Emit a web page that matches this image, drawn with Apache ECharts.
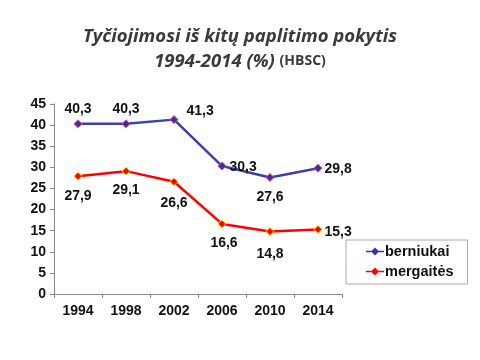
<!DOCTYPE html>
<html><head><meta charset="utf-8">
<script src="https://cdn.jsdelivr.net/npm/echarts@6/dist/echarts.min.js"></script>
<style>html,body{margin:0;padding:0;background:#fff}#c{width:480px;height:360px}</style>
</head><body><div id="c"></div>
<script>
const years = ['1994','1998','2002','2006','2010','2014'];
const berniukai = [40.3, 40.3, 41.3, 30.3, 27.6, 29.8];
const mergaites = [27.9, 29.1, 26.6, 16.6, 14.8, 15.3];
const berniukaiPos = ['top','top','right','right','bottom','right'];
const mergaitesPos = ['bottom','bottom','bottom','bottom','bottom','right'];
const berniukaiOff = [[0,0],[0,0],[0,-8],[-5,1],[0,0],[-6,1]];
const mergaitesOff = [[0,0],[0,0],[0,2],[2,0],[0,3],[-6,3]];
const yTicks = [0,5,10,15,20,25,30,35,40,45];

const fmt = p => p.value.toFixed(1).replace('.', ',');
const lbl = {show:true, formatter: fmt, fontFamily:'Liberation Sans', fontWeight:'bold', fontSize:14, color:'#111', distance:8};
function mk(vals, pos, off){ return vals.map((v,i)=>({value:v, label:{position:pos[i], offset: off[i], distance: pos[i]==='top' ? 3 : 8}})); }
const legendIcon = 'path://M0,4.2 L18,4.2 L18,5.8 L0,5.8 Z M9,1 L13,5 L9,9 L5,5 Z';

const chart = echarts.init(document.getElementById('c'));
chart.setOption({
  animation:false,
  backgroundColor:'#fff',
  title:{
    left:'center', top:19, itemGap:4,
    text:'Tyčiojimosi iš kitų paplitimo pokytis\n1994-2014 (%) {s|(HBSC)}',
    textStyle:{fontFamily:'Open Sans', fontStyle:'italic', fontWeight:'bold', fontSize:18.5, color:'#3a3a3a', lineHeight:25,
      rich:{s:{fontFamily:'Open Sans', fontStyle:'normal', fontWeight:'bold', fontSize:14, color:'#3a3a3a'}}}
  },
  grid:{left:54, right:138, top:104, bottom:66},
  legend:{
    orient:'vertical', left:346, top:240,
    padding:[4,14,5,20], itemGap:5, itemWidth:18, itemHeight:17,
    borderColor:'#aaa', borderWidth:1, icon: legendIcon,
    textStyle:{fontFamily:'Liberation Sans', fontWeight:'bold', fontSize:14.5, color:'#111', padding:[0,0,0,-4]},
    data:[
      {name:'berniukai', itemStyle:{borderWidth:0}},
      {name:'mergaitės', itemStyle:{borderWidth:0}}
    ]
  },
  xAxis:{
    type:'category', data:years, boundaryGap:true,
    axisLine:{lineStyle:{color:'#888'}},
    axisTick:{show:true, inside:false, length:4, lineStyle:{color:'#888'}},
    axisLabel:{fontFamily:'Liberation Sans', fontWeight:'bold', fontSize:14, color:'#111', margin:10}
  },
  yAxis:{
    type:'value', min:yTicks[0], max:yTicks[yTicks.length-1], interval:5,
    axisLine:{show:true, lineStyle:{color:'#888'}},
    axisTick:{show:true, length:4, lineStyle:{color:'#888'}},
    splitLine:{show:false},
    axisLabel:{fontFamily:'Liberation Sans', fontWeight:'bold', fontSize:14, color:'#111', margin:8}
  },
  series:[
    {name:'berniukai', type:'line', data:mk(berniukai, berniukaiPos, berniukaiOff), symbol:'diamond', symbolSize:8,
     lineStyle:{color:'#3f3fa6', width:2.5}, itemStyle:{color:'#3333aa', borderColor:'#ff4060', borderWidth:1},
     label:lbl},
    {name:'mergaitės', type:'line', data:mk(mergaites, mergaitesPos, mergaitesOff), symbol:'diamond', symbolSize:8,
     lineStyle:{color:'#ff0000', width:2.5}, itemStyle:{color:'#ff0000', borderColor:'#ffee00', borderWidth:1},
     label:lbl}
  ]
});
</script></body></html>
